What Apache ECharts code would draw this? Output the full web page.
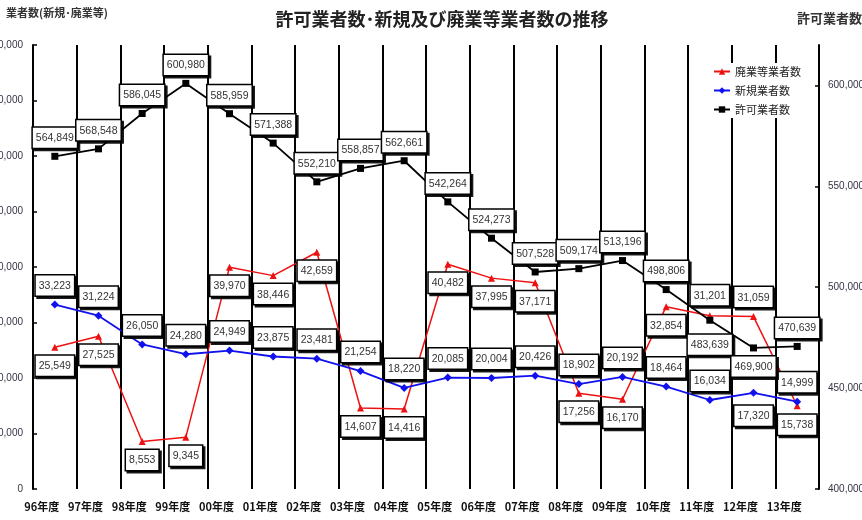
<!DOCTYPE html>
<html><head><meta charset="utf-8">
<script src="https://cdn.jsdelivr.net/npm/echarts@6/dist/echarts.min.js"></script>
<style>html,body{margin:0;padding:0;background:#fff}#c{width:862px;height:520px}</style>
</head><body><div id="c"></div>
<script>
const years = ['96年度','97年度','98年度','99年度','00年度','01年度','02年度','03年度','04年度','05年度','06年度','07年度','08年度','09年度','10年度','11年度','12年度','13年度'];
const permitted = [564849,568548,586045,600980,585959,571388,552210,558857,562661,542264,524273,507528,509174,513196,498806,483639,469900,470639];
const newEntrants = [33223,31224,26050,24280,24949,23875,23481,21254,18220,20085,20004,20426,18902,20192,18464,16034,17320,15738];
const exits = [25549,27525,8553,9345,39970,38446,42659,14607,14416,40482,37995,37171,17256,16170,32854,31201,31059,14999];
const names = { exits: '廃業等業者数', newEntrants: '新規業者数', permitted: '許可業者数' };

// label placement (style only)
const placement = {
  permitted: { def: ['top', 5], over: { 15: ['bottom', 11], 16: ['bottom', 5] } },
  newEntrants: { def: ['top', 5], over: { 16: ['bottom', 9], 17: ['bottom', 9] } },
  exits: { def: ['bottom', 5], over: { 15: ['top', 7], 16: ['top', 6], 17: ['top', 10] } }
};
function build(values, key) {
  const p = placement[key];
  return values.map((v, i) => {
    const o = p.over[i] || p.def;
    return { value: v, label: { position: o[0], distance: o[1] } };
  });
}
const boxLabel = {
  show: true,
  formatter: p => Number(p.value).toLocaleString('en-US'),
  fontFamily: '"Liberation Sans",Arial,sans-serif',
  fontSize: 10.5, color: '#333',
  backgroundColor: '#fff', borderColor: '#000', borderWidth: 1.5,
  padding: [5, 3, 4, 3],
  shadowColor: 'rgba(0,0,0,0.9)', shadowOffsetX: 2, shadowOffsetY: 2, shadowBlur: 0
};
const chart = echarts.init(document.getElementById('c'), null, { renderer: 'canvas' });
chart.setOption({
  animation: false,
  backgroundColor: '#fff',
  title: {
    text: '許可業者数･新規及び廃業等業者数の推移', left: 437, top: 5, textAlign: 'center',
    textStyle: { fontFamily: '"Noto Sans CJK JP",sans-serif', fontSize: 18, fontWeight: 'bold', color: '#222' }
  },
  graphic: [
    { type: 'text', left: 6, top: 7, style: { text: '業者数(新規･廃業等)', font: 'bold 11px "Noto Sans CJK JP",sans-serif', fill: '#333' } },
    { type: 'text', left: 797, top: 12, style: { text: '許可業者数', font: 'bold 13px "Noto Sans CJK JP",sans-serif', fill: '#333' } }
  ],
  legend: {
    orient: 'vertical', left: 710, top: 63, padding: [3, 3, 3, 3],
    backgroundColor: '#fff', itemWidth: 16, itemHeight: 8, itemGap: 8,
    data: [names.exits, names.newEntrants, names.permitted],
    textStyle: { fontFamily: '"Noto Sans CJK JP",sans-serif', fontSize: 11, color: '#222' }
  },
  grid: { left: 33, right: 43, top: 45, bottom: 31, containLabel: false, outerBoundsMode: 'none' },
  xAxis: {
    type: 'category', data: years, boundaryGap: true,
    axisLine: { show: false }, axisTick: { show: false },
    splitLine: { show: true, lineStyle: { color: '#000', width: 2 } },
    axisLabel: { margin: 12, padding: [0, 26, 0, 0], fontFamily: '"Noto Sans CJK JP",sans-serif', fontSize: 11, fontWeight: 'bold', color: '#111', interval: 0 }
  },
  yAxis: [
    {
      type: 'value', min: 0, max: 80000, interval: 10000, position: 'left',
      axisLine: { show: true, lineStyle: { color: '#000', width: 2 } },
      axisTick: { show: true, inside: true, length: 4, lineStyle: { color: '#000', width: 1.5 } },
      splitLine: { show: false },
      axisLabel: { margin: 10, fontFamily: '"Liberation Sans",sans-serif', fontSize: 10, color: '#334', formatter: v => v.toLocaleString('en-US') }
    },
    {
      type: 'value', min: 400000, max: 620000, interval: 50000, position: 'right',
      axisLine: { show: true, lineStyle: { color: '#000', width: 2 } },
      axisTick: { show: true, inside: true, length: 4, lineStyle: { color: '#000', width: 1.5 } },
      splitLine: { show: false },
      axisLabel: { margin: 9, showMaxLabel: false, fontFamily: '"Liberation Sans",sans-serif', fontSize: 10, color: '#334', formatter: v => (v % 50000 === 0 ? v.toLocaleString('en-US') : '') }
    }
  ],
  series: [
    {
      name: names.exits, type: 'line', yAxisIndex: 0, data: build(exits, 'exits'),
      symbol: 'triangle', symbolSize: 7, lineStyle: { color: '#ee1111', width: 1.5 }, itemStyle: { color: '#ee1111' },
      label: boxLabel
    },
    {
      name: names.newEntrants, type: 'line', yAxisIndex: 0, data: build(newEntrants, 'newEntrants'),
      symbol: 'diamond', symbolSize: 8, lineStyle: { color: '#1111ee', width: 1.8 }, itemStyle: { color: '#1111ee' },
      label: boxLabel
    },
    {
      name: names.permitted, type: 'line', yAxisIndex: 1, data: build(permitted, 'permitted'),
      symbol: 'rect', symbolSize: 7, lineStyle: { color: '#000', width: 1.8 }, itemStyle: { color: '#000' },
      label: boxLabel
    }
  ]
});
</script>
</body></html>
